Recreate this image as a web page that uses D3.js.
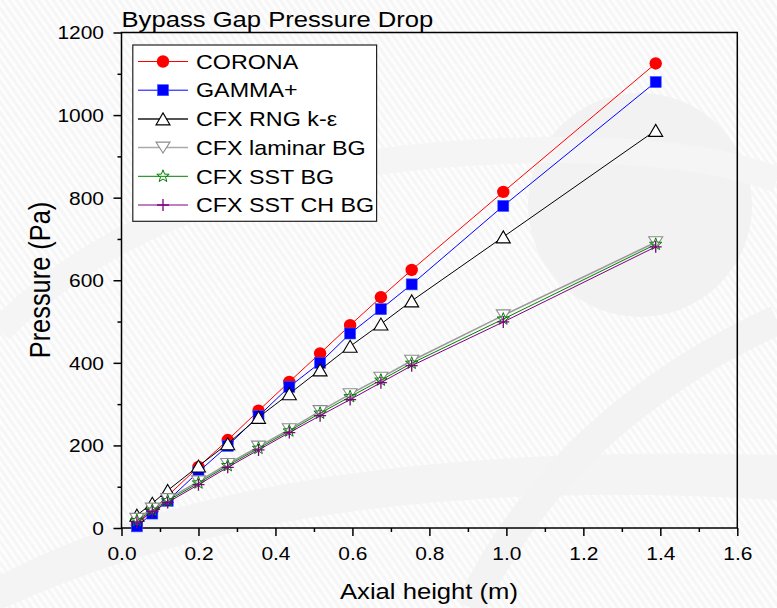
<!DOCTYPE html>
<html>
<head>
<meta charset="utf-8">
<script src="https://d3js.org/d3.v7.min.js"></script>
<style>
  html, body { margin: 0; padding: 0; background: #fff; }
  svg { display: block; }
  text { font-family: "Liberation Sans", Arial, sans-serif; fill: #000; }
</style>
</head>
<body>
<script>
// axial heights (m)
const heights = [0.04, 0.08, 0.12, 0.2, 0.276, 0.356, 0.436, 0.516, 0.594, 0.674, 0.754, 0.992, 1.388];

// pressure (Pa) per model
const corona   = [8, 42, 78, 148, 213, 284, 354, 423, 491, 559, 625, 814, 1125];
const gamma    = [4, 35, 66, 136, 199, 271, 342, 400, 471, 530, 590, 780, 1080];
const rng      = [31, 60, 91, 150, 204, 268, 325, 383, 440, 494, 550, 705, 963];
const laminar  = [22, 47, 70, 113, 155, 197, 239, 283, 324, 364, 405, 515, 692];
const sst      = [18, 43, 66, 109, 151, 193, 235, 278, 318, 358, 399, 506, 687];
const sstCh    = [14, 40, 62, 105, 147, 189, 231, 272, 311, 352, 393, 499, 681];

const seriesNames = ["CORONA", "GAMMA+", "CFX RNG k-\u03b5", "CFX laminar BG", "CFX SST BG", "CFX SST CH BG"];
const seriesValues = [corona, gamma, rng, laminar, sst, sstCh];

const xTicks = [0, 0.2, 0.4, 0.6, 0.8, 1.0, 1.2, 1.4, 1.6];
const yTicks = [0, 200, 400, 600, 800, 1000, 1200];

const W = 777, H = 608;
const SX = 1.165; // the source picture is stretched sideways

const styles = [
  { color: "#ff0000", width: 1, legendColor: "#ff0000", legendWidth: 1, marker: "circle" },
  { color: "#0000ff", width: 1, legendColor: "#0000ff", legendWidth: 1, marker: "square" },
  { color: "#000000", width: 1, legendColor: "#555555", legendWidth: 2, marker: "up" },
  { color: "#999999", width: 1.5, legendColor: "#aaaaaa", legendWidth: 1.5, marker: "down" },
  { color: "#008000", width: 1, legendColor: "#008000", legendWidth: 1, marker: "star" },
  { color: "#800080", width: 1, legendColor: "#800080", legendWidth: 1, marker: "plus" }
];

const svg = d3.select("body").append("svg").attr("width", W).attr("height", H);

// faint watermark in the background
const defs = svg.append("defs");
const pat = defs.append("pattern").attr("id", "stripes")
  .attr("width", 6).attr("height", 6).attr("patternUnits", "userSpaceOnUse")
  .attr("patternTransform", "rotate(-35)");
pat.append("rect").attr("width", 6).attr("height", 6).attr("fill", "#fdfdfd");
pat.append("rect").attr("width", 3).attr("height", 6).attr("fill", "#f6f6f6");

const bg = svg.append("g");
bg.append("rect").attr("width", W).attr("height", H).attr("fill", "url(#stripes)");
bg.append("circle").attr("cx", 640).attr("cy", 205).attr("r", 112).attr("fill", "#f2f2f2");
bg.append("path").attr("d", "M0,575 Q260,440 777,455 L777,500 Q300,470 0,610 Z").attr("fill", "#f4f4f4");
bg.append("path").attr("d", "M0,330 Q180,150 560,150 Q700,150 777,180").attr("fill", "none").attr("stroke", "#f5f5f5").attr("stroke-width", 26);
bg.append("path").attr("d", "M470,608 Q560,420 777,320").attr("fill", "none").attr("stroke", "#f3f3f3").attr("stroke-width", 30);

const x = d3.scaleLinear().domain([0, 1.6]).range([121.5, 737.3]);
const y = d3.scaleLinear().domain([0, 1200]).range([528, 32.5]);

// frame
svg.append("rect")
  .attr("x", x(0)).attr("y", y(1200))
  .attr("width", x(1.6) - x(0)).attr("height", y(0) - y(1200))
  .attr("fill", "none").attr("stroke", "#000").attr("stroke-width", 1.5);

// minor ticks
svg.append("g").attr("transform", `translate(0,${y(0)})`)
  .call(d3.axisBottom(x).tickValues(d3.range(0.1, 1.6, 0.2)).tickSize(4).tickFormat(""))
  .call(g => g.select(".domain").remove())
  .call(g => g.selectAll("line").attr("stroke-width", 1.5));
svg.append("g").attr("transform", `translate(${x(0)},0)`)
  .call(d3.axisLeft(y).tickValues(d3.range(100, 1200, 200)).tickSize(4).tickFormat(""))
  .call(g => g.select(".domain").remove())
  .call(g => g.selectAll("line").attr("stroke-width", 1.5));

// major ticks with labels
svg.append("g").attr("transform", `translate(0,${y(0)})`)
  .call(d3.axisBottom(x).tickValues(xTicks).tickSize(8).tickFormat(d3.format(".1f")))
  .call(g => g.select(".domain").remove())
  .call(g => g.selectAll("line").attr("stroke-width", 1.5))
  .call(g => g.selectAll("text")
    .attr("y", 32.5).attr("dy", null)
    .attr("font-size", 18).attr("font-family", null)
    .attr("transform", `scale(${SX},1)`));
svg.append("g").attr("transform", `translate(${x(0)},0)`)
  .call(d3.axisLeft(y).tickValues(yTicks).tickSize(8).tickFormat(d3.format("d")))
  .call(g => g.select(".domain").remove())
  .call(g => g.selectAll("line").attr("stroke-width", 1.5))
  .call(g => g.selectAll("text")
    .attr("x", -17.5 / SX).attr("dy", "0.36em")
    .attr("font-size", 18).attr("font-family", null)
    .attr("transform", `scale(${SX},1)`));

// titles
svg.append("text").text("Bypass Gap Pressure Drop")
  .attr("font-size", 22)
  .attr("transform", `translate(121.5,27) scale(${SX},1)`);
svg.append("text").text("Axial height (m)")
  .attr("font-size", 22).attr("text-anchor", "middle")
  .attr("transform", `translate(429,599) scale(${SX},1)`);
svg.append("text").text("Pressure (Pa)")
  .attr("font-size", 25.4).attr("text-anchor", "middle")
  .attr("transform", `translate(50,280) scale(1.17,1) rotate(-90)`);

// marker shapes
function drawMarker(g, type, cx, cy) {
  if (type === "circle") {
    g.append("circle").attr("cx", cx).attr("cy", cy).attr("r", 6.2).attr("fill", "#ff0000");
  } else if (type === "square") {
    g.append("rect").attr("x", cx - 5.5).attr("y", cy - 5.5).attr("width", 11).attr("height", 11)
      .attr("fill", "#0000ff").attr("stroke", "#3355ff").attr("stroke-width", 0.6);
  } else if (type === "up") {
    g.append("path").attr("d", `M${cx},${cy - 6} L${cx + 7},${cy + 6} L${cx - 7},${cy + 6} Z`)
      .attr("fill", "#fff").attr("stroke", "#000").attr("stroke-width", 1.1);
  } else if (type === "down") {
    g.append("path").attr("d", `M${cx - 7},${cy - 5.5} L${cx + 7},${cy - 5.5} L${cx},${cy + 5.5} Z`)
      .attr("fill", "#fff").attr("stroke", "#8c8c8c").attr("stroke-width", 1.1);
  } else if (type === "star") {
    const pts = d3.range(10).map(i => {
      const a = -Math.PI / 2 + i * Math.PI / 5;
      const r = i % 2 === 0 ? 6.5 : 2.7;
      return [cx + r * Math.cos(a), cy + r * Math.sin(a)];
    });
    g.append("path").attr("d", "M" + pts.join("L") + "Z")
      .attr("fill", "none").attr("stroke", "#008000").attr("stroke-width", 1);
  } else if (type === "plus") {
    g.append("path").attr("d", `M${cx - 6},${cy} H${cx + 6} M${cx},${cy - 6} V${cy + 6}`)
      .attr("stroke", "#800080").attr("stroke-width", 1.3);
  }
}

const line = d3.line().x(d => x(d[0])).y(d => y(d[1]));

seriesValues.forEach((vals, i) => {
  const st = styles[i];
  const pts = heights.map((h, k) => [h, vals[k]]);
  const g = svg.append("g");
  g.append("path").datum(pts).attr("d", line)
    .attr("fill", "none").attr("stroke", st.color).attr("stroke-width", st.width);
  pts.forEach(p => drawMarker(g, st.marker, x(p[0]), y(p[1])));
});

// legend
const leg = svg.append("g");
leg.append("rect").attr("x", 132.8).attr("y", 45).attr("width", 243.8).attr("height", 176.3)
  .attr("fill", "#fff").attr("stroke", "#222").attr("stroke-width", 1.2);
seriesNames.forEach((name, i) => {
  const st = styles[i];
  const ry = 61.5 + i * 28.7;
  leg.append("line").attr("x1", 138).attr("x2", 188).attr("y1", ry).attr("y2", ry)
    .attr("stroke", st.legendColor).attr("stroke-width", st.legendWidth);
  drawMarker(leg, st.marker, 163, ry);
  leg.append("text").text(name).attr("font-size", 20)
    .attr("transform", `translate(196,${ry + 7.2}) scale(${SX},1)`);
});
</script>
</body>
</html>
